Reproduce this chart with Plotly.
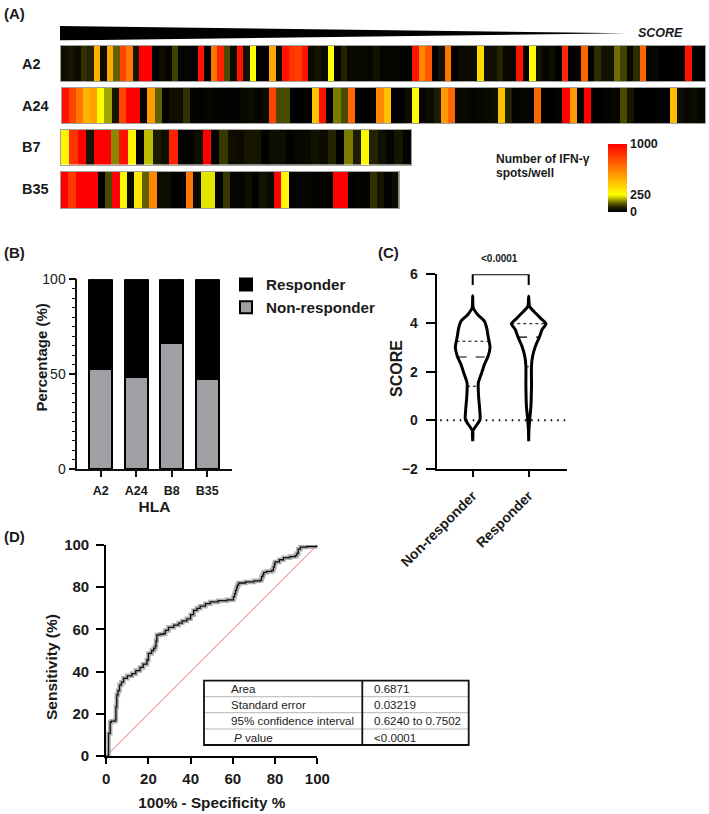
import plotly.graph_objects as go

W, H = 709, 814

# ---- Panel A data: IFN-gamma spots/well
a2_spots = [30,50,25,85,70,480,30,500,130,800,650,50,1000,1000,0,30,15,100,10,10,5,950,0,650,900,110,20,950,40,250,
            5,5,500,25,950,850,820,950,25,45,20,250,5,70,20,15,20,10,40,10,10,10,5,5,950,600,750,0,40,650,
            0,20,25,25,350,40,35,70,15,15,950,0,250,40,15,30,5,880,0,15,700,5,80,40,40,140,100,15,80,700,
            10,15,0,0,0,0,950,0,0]
a24_spots = [950,800,650,480,520,250,180,50,800,1000,1000,0,550,130,5,30,30,85,5,5,15,5,5,5,5,15,25,10,25,800,
             110,110,0,0,5,420,950,0,150,110,700,0,0,0,600,430,0,5,30,250,15,25,60,550,700,15,20,10,15,20,
             30,430,70,5,15,5,700,0,0,5,1000,550,5,1000,0,0,10,15,110,50,0,0,0,5,0,450,30,15,25,10]
b7_spots = [280,850,1000,50,1000,1000,160,950,280,0,200,60,30,900,5,5,30,1000,0,90,30,25,50,50,5,30,30,5,15,20,
            40,25,70,0,150,60,270,70,35,10,50,5]
b35_spots = [1000,830,1000,1000,1000,0,110,1000,280,20,320,130,600,30,30,0,0,650,25,230,230,5,90,10,10,30,5,40,25,1000,
             270,5,10,15,5,5,10,1000,1000,5,10,5,85,50,5,30]
heat_rows = ["A2", "A24", "B7", "B35"]
color_ticks = [0, 250, 1000]
color_tick_text = ["0", "250", "1000"]

wedge_rank = [0, 100, 0]
wedge_height = [1, 0, -1]

# ---- Panel B
hla = ["A2", "A24", "B8", "B35"]
non_responder = [53, 48.5, 66.5, 47.5]
responder = [47, 51.5, 33.5, 52.5]

# ---- Panel C: violin outlines
nr_score = [5.12,4.62,4.34,4.07,3.8,3.45,3.0,2.63,2.3,1.95,1.53,1.0,0.44,0.03,-0.45,-0.86]
nr_width = [0,0.01,0.09,0.21,0.25,0.275,0.31,0.275,0.21,0.16,0.10,0.105,0.125,0.13,0.0,0]
r_score = [5.1,4.68,4.48,4.2,3.97,3.73,3.42,3.04,2.63,2.22,1.4,0.57,0.03,-0.38,-0.86]
r_width = [0,0.015,0.09,0.21,0.31,0.24,0.19,0.12,0.07,0.05,0.05,0.04,0.018,0.005,0]
nr_median, nr_quartiles = 2.6, [3.25, 1.4]
r_median, r_quartiles = 3.42, [3.97, 2.2]
violin_names = ["Non-responder", "Responder"]

# ---- Panel D: ROC curve
roc_fpr = [0,1.1,1.1,1.9,2.4,4.3,4.6,5,5.6,6.3,7.2,8.2,10,12.2,14,16,17.5,19.3,20,21.5,22.5,23.2,23.6,24,25.5,27.2,28,29.5,32,34.3,
           36,38.2,40,41.4,43,44.5,47,49.3,53,57.2,60.3,60.8,61.3,61.8,62.2,62.7,66,70,73,73.6,74.2,74.6,76,78.5,79.2,79.7,80,82,84,87,89.6,90.3,91,92,95,100]
roc_tpr = [0,0,10.7,16,16.5,17,23.4,29,31,33.6,35,36.8,38,39,40.5,42,43.5,45.5,48.6,50,51,52,54.5,57.4,57.7,58,59.5,61,62,63,
           64,65,67,69,70,71,72.2,73,73.6,74,75.5,77,78.5,80,81,82,82.5,83,83.4,85,86,87,87.5,88,89.5,91,92,93,94,94.5,95,96,98,99,99.3,100]
diag = [0, 100]

table_labels = ["Area", "Standard error", "95% confidence interval", "<i>P</i> value"]
table_values = ["0.6871", "0.03219", "0.6240 to 0.7502", "&lt;0.0001"]

FONT = "Liberation Sans, Arial, sans-serif"
TXT = "#1a1a1a"


def px(x):
    return x / W


def py(y):
    return 1 - y / H


def dom_x(a, b):
    return [px(a), px(b)]


def dom_y(top, bottom):
    return [py(bottom), py(top)]


fig = go.Figure()
layout = dict(
    width=W, height=H, margin=dict(l=0, r=0, t=0, b=0, autoexpand=False),
    paper_bgcolor="white", plot_bgcolor="white",
    font=dict(family=FONT, color=TXT),
    barmode="stack",
    shapes=[], annotations=[],
)


def hidden(**k):
    return dict(visible=True, showgrid=False, zeroline=False, showticklabels=False, ticks="", fixedrange=True, **k)


def note(text, x, y, size, anchor="left", angle=0, color=TXT):
    layout["annotations"].append(dict(text=text, x=px(x), y=py(y), xref="paper", yref="paper", xanchor=anchor, yanchor="middle",
                                      showarrow=False, textangle=angle, font=dict(size=size, family=FONT, color=color), align="left"))


# --- Panel A heat rows
rows = [a2_spots, a24_spots, b7_spots, b35_spots]
geom = [(61, 705, 46, 81), (61.5, 705, 88, 123), (61, 411, 130, 164.5), (61, 398.5, 172, 208)]
for i, (vals, g) in enumerate(zip(rows, geom), start=1):
    fig.add_trace(go.Heatmap(z=[vals], coloraxis="coloraxis", xaxis=f"x{i}", yaxis=f"y{i}", name=heat_rows[i - 1], showscale=i == 1))
    layout[f"xaxis{i}"] = hidden(domain=dom_x(g[0], g[1]), range=[-0.5, len(vals) - 0.5], anchor=f"y{i}",
                                 showline=True, mirror=True, linecolor="#a0a0a0", linewidth=1)
    layout[f"yaxis{i}"] = hidden(domain=dom_y(g[2], g[3]), range=[-0.5, 0.5], anchor=f"x{i}",
                                 showline=True, mirror=True, linecolor="#a0a0a0", linewidth=1)
    note(f"<b>{heat_rows[i-1]}</b>", 19.5, (g[2] + g[3]) / 2 - (1 if i == 4 else 0), 14.5)

layout["coloraxis"] = dict(
    cmin=0, cmax=1000,
    colorscale=[[0, "#000000"], [0.0625, "#1c1c00"], [0.125, "#5a5a00"], [0.25, "#ffff00"], [1, "#ff0000"]],
    colorbar=dict(x=px(607.5), xanchor="left", y=py(144), yanchor="top", len=67.5, lenmode="pixels",
                  thickness=18.5, thicknessmode="pixels", tickvals=color_ticks, ticktext=color_tick_text,
                  ticks="", outlinewidth=0, borderwidth=0, xpad=0, ypad=0, ticklabelposition="outside",
                  tickfont=dict(size=12.5, family=FONT, weight="bold", color=TXT)),
)

# --- Score wedge
fig.add_trace(go.Scatter(x=wedge_rank, y=wedge_height, mode="lines", fill="toself", fillcolor="black",
                         line=dict(color="black", width=0), xaxis="x5", yaxis="y5", showlegend=False, hoverinfo="skip"))
layout["xaxis5"] = dict(domain=dom_x(60, 626), range=[0, 100], visible=False, anchor="y5")
layout["yaxis5"] = dict(domain=dom_y(26, 40.5), range=[-1, 1], visible=False, anchor="x5")

# --- Panel B
fig.add_trace(go.Bar(x=hla, y=non_responder, name="Non-responder", marker=dict(color="#a0a0a4", line=dict(color="black", width=2)),
                     width=0.66, xaxis="x6", yaxis="y6"))
fig.add_trace(go.Bar(x=hla, y=responder, name="Responder", marker=dict(color="black", line=dict(color="black", width=2)),
                     width=0.66, xaxis="x6", yaxis="y6"))
layout["xaxis6"] = dict(domain=dom_x(77.3, 231.7), range=[-0.66, 3.69], anchor="y6", type="category", showline=True, linecolor="#111", linewidth=1.6,
                        ticks="outside", ticklen=5.5, tickwidth=1.6, tickcolor="#111", showgrid=False, ticklabelstandoff=3,
                        tickfont=dict(size=12.5, family=FONT, weight="bold"),
                        title=dict(text="<b>HLA</b>", font=dict(size=15.5, family=FONT), standoff=3))
layout["yaxis6"] = dict(domain=dom_y(279.3, 469.3), range=[0, 100], anchor="x6", showline=True, linecolor="#111", linewidth=1.6,
                        tickvals=[0, 50, 100], ticks="outside", ticklen=7, tickwidth=1.6, tickcolor="#111", showgrid=False, zeroline=False,
                        tickfont=dict(size=14, family=FONT),
                        minor=dict(dtick=5, ticks="outside", ticklen=4, tickwidth=1.2, tickcolor="#111", showgrid=False))
note("<b>Percentage (%)</b>", 40.5, 358, 15, anchor="center", angle=-90)
layout["legend"] = dict(x=px(226), y=py(268), xanchor="left", yanchor="top", traceorder="reversed", bgcolor="rgba(0,0,0,0)",
                        font=dict(size=15.2, family=FONT, weight="bold"), itemclick=False, itemdoubleclick=False, tracegroupgap=0)


# --- Panel C
def violin(center, scores, widths, median, quartiles):
    left = [center - w for w in widths]
    right = [center + w for w in widths]
    xs = left + right[::-1]
    ys = scores + scores[::-1]
    fig.add_trace(go.Scatter(x=xs, y=ys, mode="lines", line=dict(color="black", width=3, shape="spline", smoothing=0.6),
                             xaxis="x7", yaxis="y7", showlegend=False, hoverinfo="skip", cliponaxis=False))
    def half(v):
        for a, b, wa, wb in zip(scores, scores[1:], widths, widths[1:]):
            if b <= v <= a:
                return wb + (wa - wb) * (v - b) / (a - b)
        return 0
    for v, dash, lw in [(median, "dash", 1.1)] + [(q, "dot", 1.0) for q in quartiles]:
        h = half(v)
        fig.add_trace(go.Scatter(x=[center - h, center + h], y=[v, v], mode="lines", line=dict(color="black", width=lw, dash=dash),
                                 xaxis="x7", yaxis="y7", showlegend=False, hoverinfo="skip"))


fig.add_trace(go.Scatter(x=[-0.58, 1.679], y=[0, 0], mode="lines", line=dict(color="black", width=2, dash="1.5px,5px"),
                         xaxis="x7", yaxis="y7", showlegend=False, hoverinfo="skip"))
violin(0, nr_score, nr_width, nr_median, nr_quartiles)
violin(1, r_score, r_width, r_median, r_quartiles)
fig.add_trace(go.Scatter(x=[0, 0, 1, 1], y=[5.56, 6, 6, 5.56], mode="lines", line=dict(color="black", width=2),
                         xaxis="x7", yaxis="y7", showlegend=False, hoverinfo="skip", cliponaxis=False))
layout["xaxis7"] = dict(domain=dom_x(436.7, 566.7), range=[-0.643, 1.679], anchor="y7", showline=True, linecolor="black", linewidth=2.2,
                        tickvals=[0, 1], ticktext=violin_names, tickangle=-45, ticklabelstandoff=5,
                        ticks="outside", ticklen=6, tickwidth=2, tickcolor="black", showgrid=False, zeroline=False,
                        tickfont=dict(size=14, family=FONT, weight="bold"))
layout["yaxis7"] = dict(domain=dom_y(274.3, 469), range=[-2, 6], anchor="x7", showline=True, linecolor="black", linewidth=2.2,
                        tickvals=[-2, 0, 2, 4, 6], ticktext=["\u22122", "0", "2", "4", "6"], ticklabelstandoff=5,
                        ticks="outside", ticklen=9, tickwidth=2, tickcolor="black", showgrid=False, zeroline=False,
                        tickfont=dict(size=14, family=FONT, weight="bold"))
note("<b>SCORE</b>", 396, 369, 16, anchor="center", angle=-90)

# --- Panel D
fig.add_trace(go.Scatter(x=diag, y=diag, mode="lines", line=dict(color="#f26a6a", width=1),
                         xaxis="x8", yaxis="y8", showlegend=False, hoverinfo="skip"))
fig.add_trace(go.Scatter(x=roc_fpr, y=roc_tpr, mode="lines", line=dict(color="rgba(150,150,150,0.75)", width=4.5, shape="hv"),
                         xaxis="x8", yaxis="y8", showlegend=False, hoverinfo="skip", cliponaxis=False))
fig.add_trace(go.Scatter(x=roc_fpr, y=roc_tpr, mode="lines", line=dict(color="#111", width=1.3, shape="hv"),
                         xaxis="x8", yaxis="y8", showlegend=False, cliponaxis=False))
layout["xaxis8"] = dict(domain=dom_x(106.2, 317.3), range=[0, 100], anchor="y8", showline=True, linecolor="black", linewidth=2,
                        tickvals=[0, 20, 40, 60, 80, 100], ticks="outside", ticklen=6, tickwidth=2, tickcolor="black", showgrid=False, zeroline=False,
                        tickfont=dict(size=15, family=FONT, weight="bold"), ticklabelstandoff=2,
                        title=dict(text="<b>100% - Specificity %</b>", font=dict(size=15.3, family=FONT), standoff=11))
layout["yaxis8"] = dict(domain=dom_y(545, 756), range=[0, 100], anchor="x8", showline=True, linecolor="black", linewidth=2,
                        tickvals=[0, 20, 40, 60, 80, 100], ticks="outside", ticklen=8, tickwidth=2, tickcolor="black", showgrid=False, zeroline=False,
                        tickfont=dict(size=15, family=FONT, weight="bold"), ticklabelstandoff=4)
note("<b>Sensitivity (%)</b>", 51, 667, 15.5, anchor="center", angle=-90)

# --- Table
tx0, tx1, txm = 204, 468.7, 362.3
ty = [680.7, 696.7, 712.7, 729, 745]
for y in ty[1:4]:
    layout["shapes"].append(dict(type="line", xref="paper", yref="paper", x0=px(tx0), x1=px(tx1), y0=py(y), y1=py(y), line=dict(color="#b5b5b5", width=1)))
layout["shapes"].append(dict(type="rect", xref="paper", yref="paper", x0=px(tx0), x1=px(tx1), y0=py(ty[0]), y1=py(ty[-1]), line=dict(color="#111", width=1.8)))
layout["shapes"].append(dict(type="line", xref="paper", yref="paper", x0=px(txm), x1=px(txm), y0=py(ty[0]), y1=py(ty[-1]), line=dict(color="#111", width=1.8)))
for i, (a, b) in enumerate(zip(table_labels, table_values)):
    yc = (ty[i] + ty[i + 1]) / 2
    note(a, 229 if i < 3 else 232, yc, 11.6, color="#222")
    note(b, 371.5, yc, 11.6, color="#222")

# --- Free text
note("<b>(A)</b>", 1.5, 14, 15)
note("<b>(B)</b>", 1.5, 253, 15)
note("<b>(C)</b>", 376.5, 253, 15)
note("<b>(D)</b>", 1.5, 536.5, 15)
note("<b><i>SCORE</i></b>", 635.5, 33.5, 12.5)
note("<b>Number of IFN-\u03b3</b>", 493.5, 159, 12)
note("<b>spots/well</b>", 493.5, 173.5, 12)
note("<b>&lt;0.0001</b>", 499, 259, 10, anchor="center")

fig.update_layout(**layout)
fig.write_html("out.html", post_script="document.body.style.margin='0';", config={"displayModeBar": False})
